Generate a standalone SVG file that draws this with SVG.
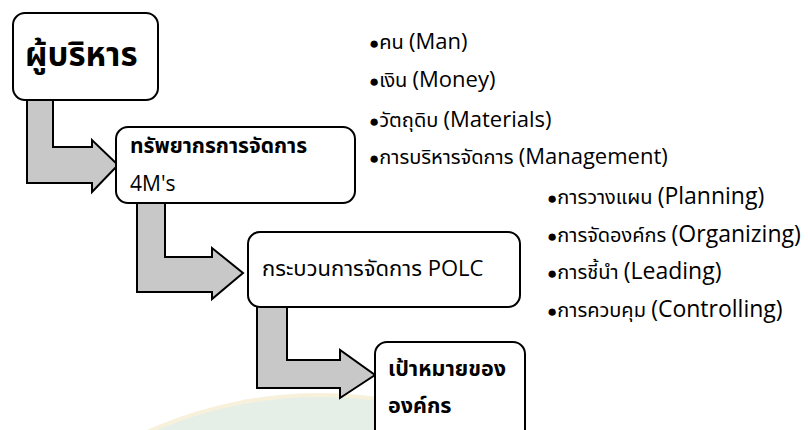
<svg xmlns="http://www.w3.org/2000/svg" width="808" height="430" viewBox="0 0 808 430">
<style>
.box{fill:#fff;stroke:#000;stroke-width:2}
.arr{fill:#c8c8c8;stroke:#000;stroke-width:2;stroke-linejoin:miter}
text{font-family:"Open Sans","Noto Sans","Noto Sans Thai","Leelawadee UI",sans-serif;fill:#000}
.b{font-weight:bold}
.th{font-size:20px}
.en{font-size:22px}
.en2{font-size:23px}
.bul{font-size:17px}
</style>
<g id="background">
<circle cx="320" cy="816" r="423" fill="#f7f1dc"/>
<circle cx="320" cy="816" r="419" fill="#e5efe7"/>
</g>
<g id="connectors">
<path class="arr" d="M27,98 L53,98 L53,147 L92,147 L92,140 L118,165 L92,192 L92,183 L27,183 Z"/>
<path class="arr" d="M137,201 L165,201 L165,257 L212,257 L212,248 L243,273 L212,299 L212,292 L137,292 Z"/>
<path class="arr" d="M257,305 L287,305 L287,360 L340,360 L340,350 L375,375 L340,398 L340,388 L257,388 Z"/>
</g>
<g id="node-executive">
<rect class="box" x="13" y="13" width="145" height="87" rx="12"/>
<text class="b" x="25" y="66" font-size="33">ผู้บริหาร</text>
</g>
<g id="node-resources">
<rect class="box" x="116" y="127" width="239" height="76" rx="12"/>
<text class="b" x="130" y="153" font-size="21">ทรัพยากรการจัดการ</text>
<text x="130" y="191" font-size="21">4M's</text>
</g>
<g id="node-process">
<rect class="box" x="248" y="232" width="272" height="75" rx="12"/>
<text x="262" y="276" font-size="22">กระบวนการจัดการ POLC</text>
</g>
<g id="node-goal">
<rect class="box" x="375" y="342" width="150" height="100" rx="12"/>
<text class="b" x="388" y="376" font-size="21.5">เป้าหมายของ</text>
<text class="b" x="388" y="413" font-size="21.5">องค์กร</text>
</g>
<g id="list">
<text x="369" y="49"><tspan class="bul">●</tspan><tspan class="th">คน </tspan><tspan class="en">(Man)</tspan></text>
<text x="369" y="87"><tspan class="bul">●</tspan><tspan class="th">เงิน </tspan><tspan class="en">(Money)</tspan></text>
<text x="369" y="127"><tspan class="bul">●</tspan><tspan class="th">วัตถุดิบ </tspan><tspan class="en">(Materials)</tspan></text>
<text x="369" y="164"><tspan class="bul">●</tspan><tspan class="th">การบริหารจัดการ </tspan><tspan class="en">(Management)</tspan></text>
<text x="547" y="204"><tspan class="bul">●</tspan><tspan class="th">การวางแผน </tspan><tspan class="en2">(Planning)</tspan></text>
<text x="547" y="242"><tspan class="bul">●</tspan><tspan class="th">การจัดองค์กร </tspan><tspan class="en2">(Organizing)</tspan></text>
<text x="547" y="279"><tspan class="bul">●</tspan><tspan class="th">การชี้นำ </tspan><tspan class="en2">(Leading)</tspan></text>
<text x="547" y="317"><tspan class="bul">●</tspan><tspan class="th">การควบคุม </tspan><tspan class="en2">(Controlling)</tspan></text>
</g>
</svg>
